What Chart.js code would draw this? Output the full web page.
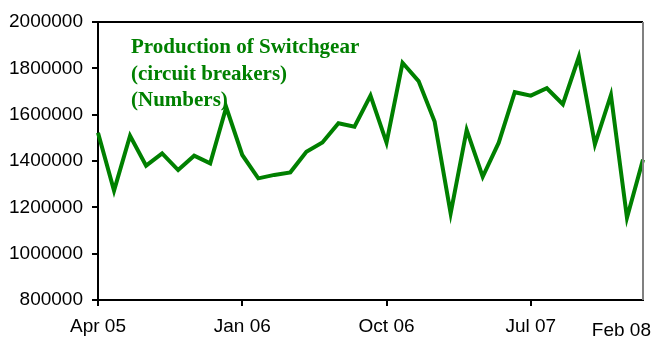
<!DOCTYPE html>
<html>
<head>
<meta charset="utf-8">
<script src="https://cdn.jsdelivr.net/npm/chart.js@4.4.0/dist/chart.umd.min.js"></script>
<style>
  html, body { margin: 0; padding: 0; background: #fff; }
  #wrap { width: 652px; height: 339px; }
</style>
</head>
<body>
<div id="wrap"><canvas id="chart"></canvas></div>
<script>
// monthly categories, Apr 05 .. Feb 08
const months = [
  'Apr 05', 'May 05', 'Jun 05', 'Jul 05', 'Aug 05', 'Sep 05', 'Oct 05', 'Nov 05', 'Dec 05',
  'Jan 06', 'Feb 06', 'Mar 06', 'Apr 06', 'May 06', 'Jun 06', 'Jul 06', 'Aug 06', 'Sep 06',
  'Oct 06', 'Nov 06', 'Dec 06', 'Jan 07', 'Feb 07', 'Mar 07', 'Apr 07', 'May 07', 'Jun 07',
  'Jul 07', 'Aug 07', 'Sep 07', 'Oct 07', 'Nov 07', 'Dec 07', 'Jan 08', 'Feb 08'
];

// switchgear production (numbers)
const production = [
  1522000, 1272000, 1509000, 1380000, 1433000, 1361000, 1423000, 1390000, 1632000,
  1426000, 1325000, 1340000, 1351000, 1440000, 1480000, 1563000, 1548000, 1682000,
  1479000, 1824000, 1745000, 1570000, 1174000, 1534000, 1332000, 1479000, 1697000,
  1682000, 1714000, 1645000, 1850000, 1472000, 1685000, 1155000, 1406000
];

const labelledMonths = ['Apr 05', 'Jan 06', 'Oct 06', 'Jul 07'];
const endLabel = 'Feb 08';
const titleLines = ['Production of Switchgear', '(circuit breakers)', '(Numbers)'];

const green = '#008000';
const tickFont = { family: "'Liberation Sans', Arial, sans-serif", size: 19 };

// plot frame, series caption and the last month label
const decorations = {
  id: 'decorations',
  afterDraw(chart) {
    const { ctx, chartArea: a } = chart;
    ctx.save();
    ctx.lineWidth = 2;
    ctx.strokeStyle = '#000';
    ctx.beginPath();
    ctx.moveTo(a.left, a.top);
    ctx.lineTo(a.right, a.top);
    ctx.stroke();
    ctx.strokeStyle = '#808080';
    ctx.beginPath();
    ctx.moveTo(a.right, a.top);
    ctx.lineTo(a.right, a.bottom);
    ctx.stroke();

    ctx.fillStyle = green;
    ctx.font = "bold 21px 'Liberation Serif', 'Times New Roman', serif";
    ctx.textBaseline = 'alphabetic';
    ctx.textAlign = 'left';
    titleLines.forEach((line, i) => ctx.fillText(line, 131, 53 + i * 26.5));

    ctx.fillStyle = '#000';
    ctx.font = "19px 'Liberation Sans', Arial, sans-serif";
    ctx.textAlign = 'right';
    ctx.fillText(endLabel, 651, 336);
    ctx.restore();
  }
};

new Chart(document.getElementById('chart'), {
  type: 'line',
  data: {
    labels: months,
    datasets: [{
      data: production,
      borderColor: green,
      borderWidth: 4,
      pointRadius: 0,
      tension: 0,
      borderJoinStyle: 'miter'
    }]
  },
  options: {
    responsive: true,
    maintainAspectRatio: false,
    animation: false,
    layout: { padding: { top: 22, right: 9, left: 0, bottom: 0 } },
    plugins: {
      legend: { display: false },
      tooltip: { enabled: false }
    },
    scales: {
      x: {
        type: 'category',
        offset: false,
        afterFit: (scale) => { scale.height = 39; },
        border: { display: true, color: '#000', width: 2 },
        grid: {
          drawOnChartArea: false,
          tickLength: 6,
          lineWidth: 2,
          color: (c) => labelledMonths.includes(months[c.index]) ? '#000' : 'rgba(0,0,0,0)'
        },
        ticks: {
          autoSkip: false,
          maxRotation: 0,
          padding: 9,
          color: '#000',
          font: tickFont,
          callback: (v, i) => labelledMonths.includes(months[i]) ? months[i] : ''
        }
      },
      y: {
        min: 800000,
        max: 2000000,
        afterFit: (scale) => { scale.width = 98; },
        border: { display: true, color: '#000', width: 2 },
        grid: { drawOnChartArea: false, tickLength: 6, lineWidth: 2, color: '#000' },
        ticks: {
          stepSize: 200000,
          padding: 9,
          color: '#000',
          font: tickFont,
          callback: (v) => String(v)
        }
      }
    }
  },
  plugins: [decorations]
});
</script>
</body>
</html>
